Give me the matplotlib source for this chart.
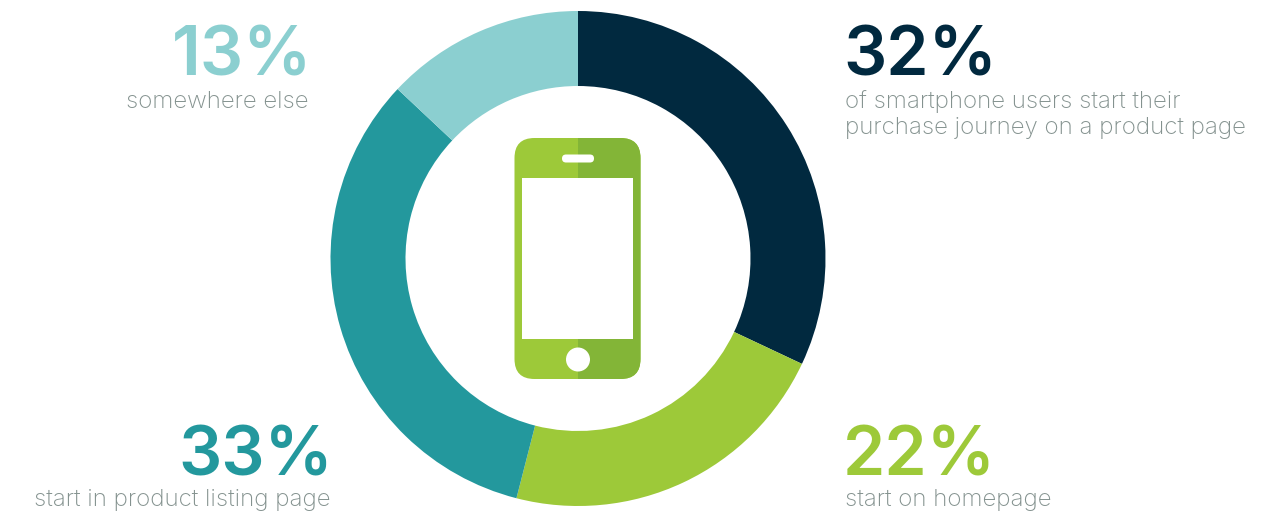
import matplotlib
matplotlib.use("Agg")
import matplotlib.pyplot as plt
from matplotlib.patches import FancyBboxPatch, Rectangle, Circle

# share of journeys per entry point, clockwise from 12 o'clock
shares = [32, 22, 33, 13]
colors = ["#01293f", "#9dc939", "#23989d", "#8bcfd0"]
big_labels = ["32%", "22%", "33%", "13%"]
small_labels = ["of smartphone users start their\npurchase journey on a product page",
                "start on homepage",
                "start in product listing page",
                "somewhere else"]

W, H = 1278, 511
plt.rcParams["font.family"] = ["Inter", "DejaVu Sans"]
fig = plt.figure(figsize=(W / 100, H / 100), dpi=100, facecolor="white")

# donut in its own axes
cx, cy, r = 578, 258.5, 247.5
ax = fig.add_axes([(cx - r) / W, 1 - (cy + r) / H, 2 * r / W, 2 * r / H])
ax.pie(shares, colors=colors, startangle=90, counterclock=False, radius=1,
       wedgeprops=dict(width=1 - 172.5 / 247.5, linewidth=0))
ax.set_xlim(-1, 1)
ax.set_ylim(-1, 1)
ax.set_aspect("equal")

# overlay in pixel coordinates for the phone icon
ov = fig.add_axes([0, 0, 1, 1], facecolor="none")
ov.set_xlim(0, W)
ov.set_ylim(H, 0)
ov.axis("off")

green = "#9dc939"
dark_green = "#83b537"
body = FancyBboxPatch((514.5, 138), 126, 241, boxstyle="round,pad=0,rounding_size=20",
                      facecolor=green, edgecolor="none")
ov.add_patch(body)
right = Rectangle((578, 130), 70, 260, facecolor=dark_green, edgecolor="none")
ov.add_patch(right)
right.set_clip_path(body)
ov.add_patch(Rectangle((522, 178.5), 111, 160.5, facecolor="white", edgecolor="none"))
ov.add_patch(FancyBboxPatch((562, 154.5), 32, 8, boxstyle="round,pad=0,rounding_size=4",
                            facecolor="white", edgecolor="none"))
ov.add_patch(Circle((578, 359.5), 12, facecolor="white", edgecolor="none"))

# percentages and captions
grey = "#84928f"
big_pos = [(843, 76, "left"), (843, 475, "left"), (333, 475, "right"), (312, 76, "right")]
small_pos = [(845, 108, "left"), (845, 506, "left"), (330, 506, "right"), (309, 108, "right")]
for i in range(4):
    x, y, ha = big_pos[i]
    ov.text(x, y, big_labels[i], color=colors[i], fontsize=49, fontweight="semibold",
            ha=ha, va="baseline")
    x, y, ha = small_pos[i]
    lines = small_labels[i].split("\n")
    for j in range(len(lines)):
        ov.text(x, y + 26 * j, lines[j], color=grey, fontsize=17.4, ha=ha, va="baseline",
                fontweight="light")

fig.savefig("out.png", dpi=100, facecolor="white")
